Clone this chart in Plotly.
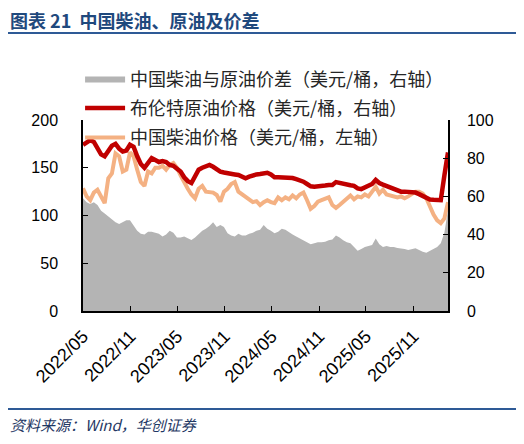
import pandas as pd
import plotly.graph_objects as go

# biweekly samples, starting 2022-05-01
start_date = "2022-05-01"
n_points = 102
dates = pd.date_range(start_date, periods=n_points, freq="14D")

# 布伦特原油价格 (right axis)
brent = [
    87, 88, 89.5, 88.5, 85.5, 82, 81, 83.5, 86.5, 87.5,
    85, 83.5, 84, 87, 86, 81, 77, 75, 77.5, 80,
    79, 78, 78.5, 78, 76.5, 76, 74.5, 73, 70, 68,
    67, 71, 74, 75, 75.5, 76.5, 75.5, 74, 73, 72.5,
    72, 72, 71.5, 71.2, 70.5, 69.5, 70.3, 71, 71.5, 71.7,
    72, 72.4, 71.5, 70, 70, 70, 69.8, 69.7, 69.6, 69,
    68.5, 67.7, 66.5, 65.3, 65.1, 65.5, 65.5, 65.7, 66, 66,
    67.5, 67, 66.3, 66, 65.8, 65.5, 64.2, 63.8, 64.5, 65.5,
    66.5, 68.6, 67, 66.2, 65.5, 64.5, 63.5, 62.8, 62.5, 62.5,
    62.5, 62.3, 62, 61.2, 60.3, 59.5, 58.4, 58.2, 58, 58,
    71, 83,
]

# 中国柴油价格 (left axis)
diesel = [
    128.5, 120, 116, 124, 127, 120, 113, 139, 144, 165,
    162, 146, 148, 166, 162, 148, 135, 131, 146, 144,
    150, 150, 152, 148, 153, 155, 150, 142, 134, 128,
    122, 118, 128, 131, 125, 124, 124, 121.5, 114.5, 125,
    128, 133, 135, 125, 122, 119, 116, 114, 115, 111,
    114, 116, 114, 113, 119, 116, 119, 117, 121, 118,
    122, 124, 116, 107, 110, 114.5, 116, 118, 119, 111,
    108, 111, 114, 118, 121, 117, 120, 119, 122, 120,
    125, 130, 123, 127, 122, 121, 120, 119, 120, 118,
    120, 122, 125, 125, 123, 118, 109, 101, 95, 92,
    97, 114,
]

# 中国柴油与原油价差 (right axis)
spread = [
    59, 57, 56, 57, 55.5, 52.5, 51, 49.5, 48, 46.5,
    45.5, 46.5, 47.5, 47.5, 45, 42, 40.5, 40, 41.5, 41.5,
    41, 40.5, 39, 40, 42, 41, 38.5, 38.5, 39, 38,
    37.2, 38.5, 40, 42, 43, 44.5, 46.5, 44, 45, 44,
    40.7, 39.5, 39, 40.5, 39.5, 39.5, 40.5, 41, 42, 42.5,
    45, 43, 42, 40.7, 41.5, 43, 42.5, 41, 40, 39,
    38, 37, 36, 35, 35.5, 36, 36, 36.3, 37, 37.5,
    39.5, 38.5, 37, 36, 35.5, 33.5, 31.5, 32.5, 33.5, 34,
    34.5, 38, 35, 33.5, 34, 33.5, 33.5, 33, 32.8, 32.5,
    32, 32.5, 32.8, 32, 31, 30.5, 31.5, 32.5, 33.5, 35.5,
    41, 53,
]

names = [
    "中国柴油与原油价差（美元/桶，右轴）",
    "布伦特原油价格（美元/桶，右轴）",
    "中国柴油价格（美元/桶，左轴）",
]

y_font = dict(family="Liberation Sans, Arial", size=16, color="#000000")
x_font = dict(family="Liberation Sans, Arial", size=18, color="#000000")
cjk = "Noto Sans CJK SC"

fig = go.Figure()
fig.add_trace(go.Scatter(x=dates, y=spread, name=names[0], yaxis="y2",
                         mode="lines", fill="tozeroy", fillcolor="#B4B4B4",
                         line=dict(width=0, color="#B4B4B4"), legendgroup="a"))
fig.add_trace(go.Scatter(x=dates, y=brent, name=names[1], yaxis="y2",
                         mode="lines", line=dict(width=4.5, color="#C00000"),
                         legendgroup="b"))
fig.add_trace(go.Scatter(x=dates, y=diesel, name=names[2],
                         mode="lines", line=dict(width=4, color="#F4B183"),
                         legendgroup="c"))

# page adds an 8px body margin, so the figure is 16px smaller than the window
fig.update_layout(
    width=508, height=428,
    margin=dict(l=75, r=68, t=112, b=125),
    paper_bgcolor="white", plot_bgcolor="white",
    title=dict(text="<b>图表 21  中国柴油、原油及价差</b>",
               font=dict(family=cjk, size=18, color="#1F497D"),
               x=0.004, xanchor="left", xref="container",
               y=1 - 13.5 / 428, yanchor="middle", yref="container",
               pad=dict(l=0, r=0, t=0, b=0)),
    showlegend=True,
    legend=dict(x=-0.008, y=1.312, xanchor="left", yanchor="top",
                bgcolor="rgba(0,0,0,0)", font=dict(family=cjk, size=18, color="#262626"),
                tracegroupgap=3, itemwidth=40, traceorder="grouped"),
    xaxis=dict(type="date", range=["2022-05-01", "2026-03-15"],
               tick0="2022-05-01", dtick="M6", tickformat="%Y/%m",
               tickangle=-45, ticks="inside", ticklen=5, tickcolor="black",
               showline=True, linecolor="black", linewidth=1.5,
               showgrid=False, zeroline=False, tickfont=x_font,
               ticklabelstandoff=6),
    yaxis=dict(range=[0, 200], dtick=50, ticks="inside", ticklen=5,
               tickcolor="black", showline=True, linecolor="black",
               linewidth=1.5, showgrid=False, zeroline=False,
               tickfont=y_font, ticklabelstandoff=20),
    yaxis2=dict(range=[0, 100], dtick=20, overlaying="y", side="right",
                ticks="inside", ticklen=5, tickcolor="black", showline=True,
                linecolor="black", linewidth=1.5, showgrid=False,
                zeroline=False, tickfont=y_font, ticklabelstandoff=14),
)

# header and footer rules
fig.add_shape(type="line", xref="paper", yref="paper",
              x0=-0.2137, x1=1.189, y0=1.4555, y1=1.4555,
              line=dict(color="#2E5A96", width=2))
fig.add_shape(type="line", xref="paper", yref="paper",
              x0=-0.2137, x1=1.189, y0=-0.513, y1=-0.513,
              line=dict(color="#2E5A96", width=2))

fig.add_annotation(text="<i>资料来源：Wind，华创证券</i>", xref="paper", yref="paper",
                   x=-0.2055, y=-0.592, xanchor="left", yanchor="middle",
                   showarrow=False, font=dict(family=cjk, size=15, color="#1F3864"))

fig.write_html("out.html")
